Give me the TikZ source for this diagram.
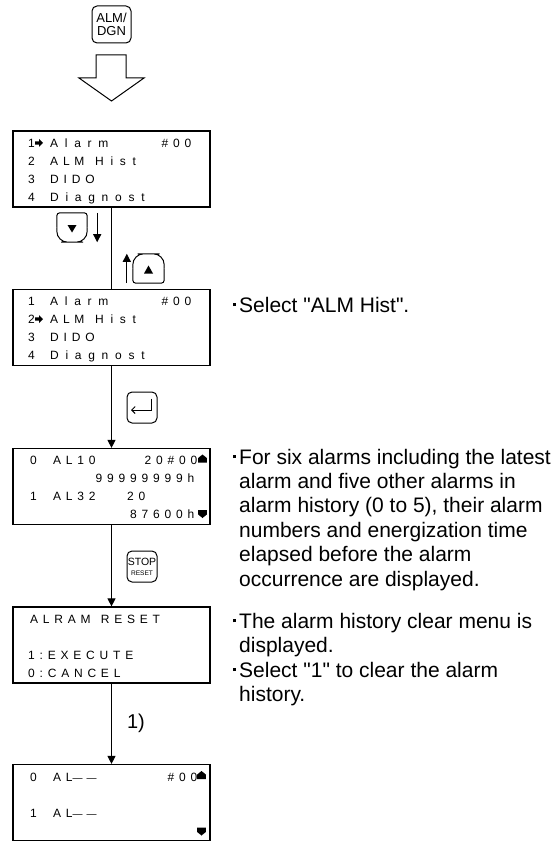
\documentclass[tikz,border=0pt]{standalone}
\usepackage{fontspec}
\setmainfont{Liberation Sans}
\newfontfamily\lcdfont[LetterSpace=40]{Liberation Sans}
\newfontfamily\lcdwide[LetterSpace=56]{Liberation Sans}
\usetikzlibrary{arrows.meta,positioning}

\begin{document}
\begin{tikzpicture}[x=1pt, y=-1pt,
        screen/.style={rectangle, draw=black, line width=1.2pt, minimum width=197pt, minimum height=76pt, inner sep=0pt},
        lcd/.style={anchor=base west, inner sep=0pt, font=\lcdfont\fontsize{12}{12}\selectfont},
        keycap/.style={rectangle, draw=black, line width=1pt, rounded corners=5pt, minimum width=30pt, minimum height=31pt, inner sep=0pt, align=center},
        arrowkey/.style={rectangle, minimum width=30pt, minimum height=29pt, inner sep=0pt},
        link/.style={line width=1pt},
        flow/.style={link, -{Triangle[width=8pt,length=8pt]}},
        note/.style={anchor=base west, inner sep=0pt, align=left, font=\fontsize{21}{24.4}\selectfont}
    ]
    \useasboundingbox (0,0) rectangle (558,842);

    % Top Section: ALM/DGN key and hollow arrow
    \node[keycap, minimum width=39pt, minimum height=37pt, font=\fontsize{13}{12.5}\selectfont] (alm_key) at (111.5,24.5) {ALM/\\DGN};
    \draw[link] (96,55) -- (126,55) -- (126,78) -- (144,78) -- (111.5,101) -- (79,78) -- (96,78) -- cycle;

    % Screens manually positioned
    \node[screen] (scr1) at (111.5,169) {};
    \node[screen] (scr2) at (111.5,327.5) {};
    \node[screen] (scr3) at (111.5,486.5) {};
    \node[screen] (scr4) at (111.5,645) {};
    \node[screen] (scr5) at (111.5,802.5) {};

    % Screen 1: menu
    \node[lcd] (s1l1) at (28,147.5) {\makebox[163pt][l]{\makebox[22pt][l]{1}{\lcdwide Alarm}\hfill\#00}};
    \node[lcd] (s1l2) at (28,165.5) {\makebox[22pt][l]{2}\makebox[45pt][l]{ALM}{\lcdwide Hist}};
    \node[lcd] (s1l3) at (28,183.5) {\makebox[22pt][l]{3}DIDO};
    \node[lcd] (s1l4) at (28,201.5) {\makebox[22pt][l]{4}{\lcdwide Diagnost}};
    \fill[shift={(39,143)}] (-3.8,-1.6) -- (0,-1.6) -- (0,-4) -- (4,0) -- (0,4) -- (0,1.6) -- (-3.8,1.6) -- cycle;

    % Screen 2: ALM Hist selected
    \node[lcd] (s2l1) at (28,305.5) {\makebox[163pt][l]{\makebox[22pt][l]{1}{\lcdwide Alarm}\hfill\#00}};
    \node[lcd] (s2l2) at (28,323.5) {\makebox[22pt][l]{2}\makebox[45pt][l]{ALM}{\lcdwide Hist}};
    \node[lcd] (s2l3) at (28,341.5) {\makebox[22pt][l]{3}DIDO};
    \node[lcd] (s2l4) at (28,359.5) {\makebox[22pt][l]{4}{\lcdwide Diagnost}};
    \fill[shift={(39,319)}] (-3.8,-1.6) -- (0,-1.6) -- (0,-4) -- (4,0) -- (0,4) -- (0,1.6) -- (-3.8,1.6) -- cycle;

    % Screen 3: alarm history
    \node[lcd] (s3l1) at (30,464.5) {\makebox[167pt][l]{\makebox[23pt][l]{0}AL10\hfill 20\#00}};
    \node[lcd] (s3l2) at (30,482.5) {\makebox[164pt][r]{99999999h}};
    \node[lcd] (s3l3) at (30,500.5) {\makebox[97pt][l]{\makebox[23pt][l]{1}AL32}20};
    \node[lcd] (s3l4) at (30,518.5) {\makebox[164pt][r]{87600h}};
    \fill[shift={(202.5,458.5)}] (-4.3,4) -- (4.3,4) -- (4.3,-0.5) -- (0,-4) -- (-4.3,-0.5) -- cycle;
    \fill[shift={(202.5,514)}] (-4.3,-4) -- (4.3,-4) -- (4.3,0.5) -- (0,4) -- (-4.3,0.5) -- cycle;

    % Screen 4: clear menu
    \node[lcd] (s4l1) at (30,623.5) {ALRAM\hspace{2pt} RESET};
    \node[lcd] (s4l3) at (28,659.5) {1:EXECUTE};
    \node[lcd] (s4l4) at (28,677.5) {0:CANCEL};

    % Screen 5: history cleared
    \node[lcd] (s5l1) at (30,781.5) {\makebox[167pt][l]{\makebox[23pt][l]{0}AL{\fontsize{10}{10}\selectfont ——}\hfill\#00}};
    \node[lcd] (s5l3) at (30,817.5) {\makebox[23pt][l]{1}AL{\fontsize{10}{10}\selectfont ——}};
    \fill[shift={(201.5,775)}] (-4.3,4) -- (4.3,4) -- (4.3,-0.5) -- (0,-4) -- (-4.3,-0.5) -- cycle;
    \fill[shift={(201.5,831.5)}] (-4.3,-4) -- (4.3,-4) -- (4.3,0.5) -- (0,4) -- (-4.3,0.5) -- cycle;

    % Keys between screens
    \node[arrowkey] (down_key) at (72,227.5) {};
    \draw[link, rounded corners=3pt] (down_key.west) |- (down_key.north) -| (down_key.east);
    \draw[link, rounded corners=11pt] (down_key.west) |- (down_key.south) -| (down_key.east);
    \fill ([shift={(-4.5,-2.5)}]down_key.center) -- ++(9,0) -- ++(-4.5,7.5) -- cycle;
    \draw[flow] ([xshift=10pt]down_key.north east) -- ([xshift=10pt]down_key.south east);

    \node[arrowkey, minimum width=31pt] (up_key) at (148.5,268.5) {};
    \draw[link, rounded corners=11pt] (up_key.west) |- (up_key.north) -| (up_key.east);
    \draw[link, rounded corners=3pt] (up_key.west) |- (up_key.south) -| (up_key.east);
    \fill ([shift={(-4.5,5)}]up_key.center) -- ++(9,0) -- ++(-4.5,-8) -- cycle;
    \draw[flow] ([xshift=-6pt]up_key.south west) -- ([xshift=-6pt]up_key.north west);

    \node[keycap] (enter_key) at (142,407.5) {};
    \draw[link, -{Straight Barb[length=3.5pt,width=7pt]}] ([shift={(9,-9)}]enter_key.center) |- ([shift={(-11,2.5)}]enter_key.center);

    \node[keycap] (stop_key) at (142,566.5) {\fontsize{10.5}{11}\selectfont STOP\\[-2pt]\fontsize{6.6}{7}\selectfont RESET};

    % Connectors
    \draw[link] (scr1.south) -- (scr2.north);
    \draw[flow] (scr2.south) -- (scr3.north);
    \draw[flow] (scr3.south) -- (scr4.north);
    \draw[flow] (scr4.south) -- node[right=15pt, inner sep=0pt, font=\fontsize{20}{20}\selectfont] (step_one) {1)} (scr5.north);

    % Notes on the right (base is the last line)
    \node[note] (note_hist) at (239,312) {\llap{\rule[6pt]{3.3pt}{3.3pt}\hspace{3pt}}Select \textquotedbl ALM Hist\textquotedbl.};
    \node[note] (note_list) at (239,586) {\llap{\rule[6pt]{3.3pt}{3.3pt}\hspace{3pt}}For six alarms including the latest\\alarm and five other alarms in\\alarm history (0 to 5), their alarm\\numbers and energization time\\elapsed before the alarm\\occurrence are displayed.};
    \node[note] (note_clear) at (239,701.5) {\llap{\rule[6pt]{3.3pt}{3.3pt}\hspace{3pt}}The alarm history clear menu is\\displayed.\\\llap{\rule[6pt]{3.3pt}{3.3pt}\hspace{3pt}}Select \textquotedbl 1\textquotedbl{} to clear the alarm\\history.};

\end{tikzpicture}
\end{document}
